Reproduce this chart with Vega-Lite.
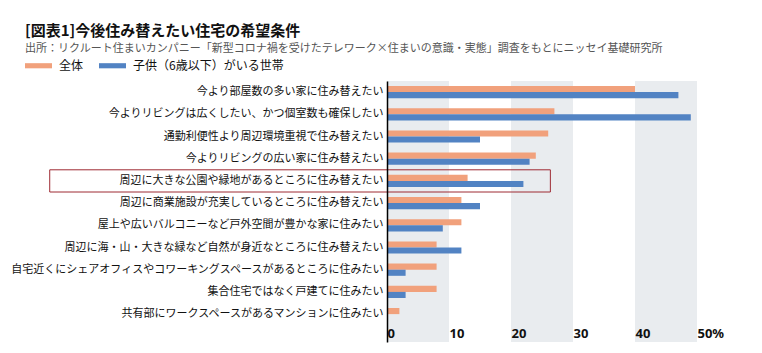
{
  "$schema": "https://vega.github.io/schema/vega-lite/v6.json",
  "width": 310,
  "height": 261,
  "autosize": {"type": "none"},
  "padding": {"left": 387, "top": 81, "right": 65, "bottom": 11},
  "background": "white",
  "title": {
    "text": "[図表1]今後住み替えたい住宅の希望条件",
    "subtitle": "出所：リクルート住まいカンパニー「新型コロナ禍を受けたテレワーク×住まいの意識・実態」調査をもとにニッセイ基礎研究所",
    "anchor": "start",
    "frame": "group",
    "dx": -362,
    "offset": -2,
    "font": "Noto Sans CJK JP",
    "fontSize": 15,
    "fontWeight": "bold",
    "color": "#111",
    "subtitleFont": "Noto Sans CJK JP",
    "subtitleFontSize": 11,
    "subtitleColor": "#555",
    "subtitlePadding": 4
  },
  "config": {
    "view": {"stroke": null},
    "font": "Noto Sans CJK JP",
    "axisX": {"labelOverlap": false, "zindex": 1}
  },
  "datasets": {
    "bars": [
      {"item": "今より部屋数の多い家に住み替えたい", "series": "全体", "value": 40},
      {"item": "今より部屋数の多い家に住み替えたい", "series": "子供（6歳以下）がいる世帯", "value": 47},
      {"item": "今よりリビングは広くしたい、かつ個室数も確保したい", "series": "全体", "value": 27},
      {"item": "今よりリビングは広くしたい、かつ個室数も確保したい", "series": "子供（6歳以下）がいる世帯", "value": 49},
      {"item": "通勤利便性より周辺環境重視で住み替えたい", "series": "全体", "value": 26},
      {"item": "通勤利便性より周辺環境重視で住み替えたい", "series": "子供（6歳以下）がいる世帯", "value": 15},
      {"item": "今よりリビングの広い家に住み替えたい", "series": "全体", "value": 24},
      {"item": "今よりリビングの広い家に住み替えたい", "series": "子供（6歳以下）がいる世帯", "value": 23},
      {"item": "周辺に大きな公園や緑地があるところに住み替えたい", "series": "全体", "value": 13},
      {"item": "周辺に大きな公園や緑地があるところに住み替えたい", "series": "子供（6歳以下）がいる世帯", "value": 22},
      {"item": "周辺に商業施設が充実しているところに住み替えたい", "series": "全体", "value": 12},
      {"item": "周辺に商業施設が充実しているところに住み替えたい", "series": "子供（6歳以下）がいる世帯", "value": 15},
      {"item": "屋上や広いバルコニーなど戸外空間が豊かな家に住みたい", "series": "全体", "value": 12},
      {"item": "屋上や広いバルコニーなど戸外空間が豊かな家に住みたい", "series": "子供（6歳以下）がいる世帯", "value": 9},
      {"item": "周辺に海・山・大きな緑など自然が身近なところに住み替えたい", "series": "全体", "value": 8},
      {"item": "周辺に海・山・大きな緑など自然が身近なところに住み替えたい", "series": "子供（6歳以下）がいる世帯", "value": 12},
      {"item": "自宅近くにシェアオフィスやコワーキングスペースがあるところに住みたい", "series": "全体", "value": 8},
      {"item": "自宅近くにシェアオフィスやコワーキングスペースがあるところに住みたい", "series": "子供（6歳以下）がいる世帯", "value": 3},
      {"item": "集合住宅ではなく戸建てに住みたい", "series": "全体", "value": 8},
      {"item": "集合住宅ではなく戸建てに住みたい", "series": "子供（6歳以下）がいる世帯", "value": 3},
      {"item": "共有部にワークスペースがあるマンションに住みたい", "series": "全体", "value": 2},
      {"item": "共有部にワークスペースがあるマンションに住みたい", "series": "子供（6歳以下）がいる世帯", "value": 0}
    ],
    "bands": [
      {"from": 0, "to": 10},
      {"from": 20, "to": 30},
      {"from": 40, "to": 50}
    ]
  },
  "layer": [
    {
      "data": {"name": "bands"},
      "mark": {"type": "rect", "color": "#e9ecef"},
      "encoding": {
        "x": {"field": "from", "type": "quantitative", "scale": {"domain": [0, 50], "nice": false, "zero": true},
          "axis": {"title": null, "values": [0, 10, 20, 30, 40, 50], "labelExpr": "datum.value == 50 ? '50%' : datum.label", "orient": "bottom", "offset": -16, "ticks": false, "domain": false, "grid": false, "labelAlign": "left", "labelDx": 2, "labelPadding": 1, "labelFont": "Noto Sans", "labelFontSize": 13, "labelFontWeight": "bold", "labelColor": "#111", "labelFlush": false, "labelOverlap": false, "zindex": 1}},
        "x2": {"field": "to"}
      }
    },
    {
      "data": {"name": "bars"},
      "mark": {"type": "bar"},
      "encoding": {
        "y": {"field": "item", "type": "nominal", "sort": null,
          "scale": {"paddingInner": 0, "paddingOuter": 0.378, "align": 0},
          "axis": {"title": null, "ticks": false, "domainColor": "#000", "domainWidth": 1.5, "labelFontSize": 11, "labelColor": "#111", "labelPadding": 4, "labelLimit": 0, "labelFont": "Noto Sans CJK JP", "zindex": 1}},
        "x": {"field": "value", "type": "quantitative"},
        "yOffset": {"field": "series", "type": "nominal", "scale": {"domain": ["全体", "子供（6歳以下）がいる世帯"], "paddingInner": 0, "paddingOuter": 0.82}},
        "color": {"field": "series", "type": "nominal",
          "scale": {"domain": ["全体", "子供（6歳以下）がいる世帯"], "range": ["#f1a17c", "#5283c3"]},
          "legend": {"title": null, "orient": "none", "legendX": -362, "legendY": -29, "direction": "horizontal", "symbolType": "M-1,-0.19H1V0.19H-1Z", "symbolSize": 729, "symbolStrokeWidth": 0, "labelFontSize": 12, "labelColor": "#111", "labelOffset": 7, "columnPadding": 15, "labelFont": "Noto Sans CJK JP"}}
      }
    },
    {
      "data": {"values": [{}]},
      "mark": {"type": "rect", "fill": null, "stroke": "#9e2a33", "strokeWidth": 1},
      "encoding": {
        "x": {"datum": -54.4},
        "x2": {"datum": 26.35},
        "y": {"datum": "周辺に大きな公園や緑地があるところに住み替えたい"}
      }
    }
  ]
}
